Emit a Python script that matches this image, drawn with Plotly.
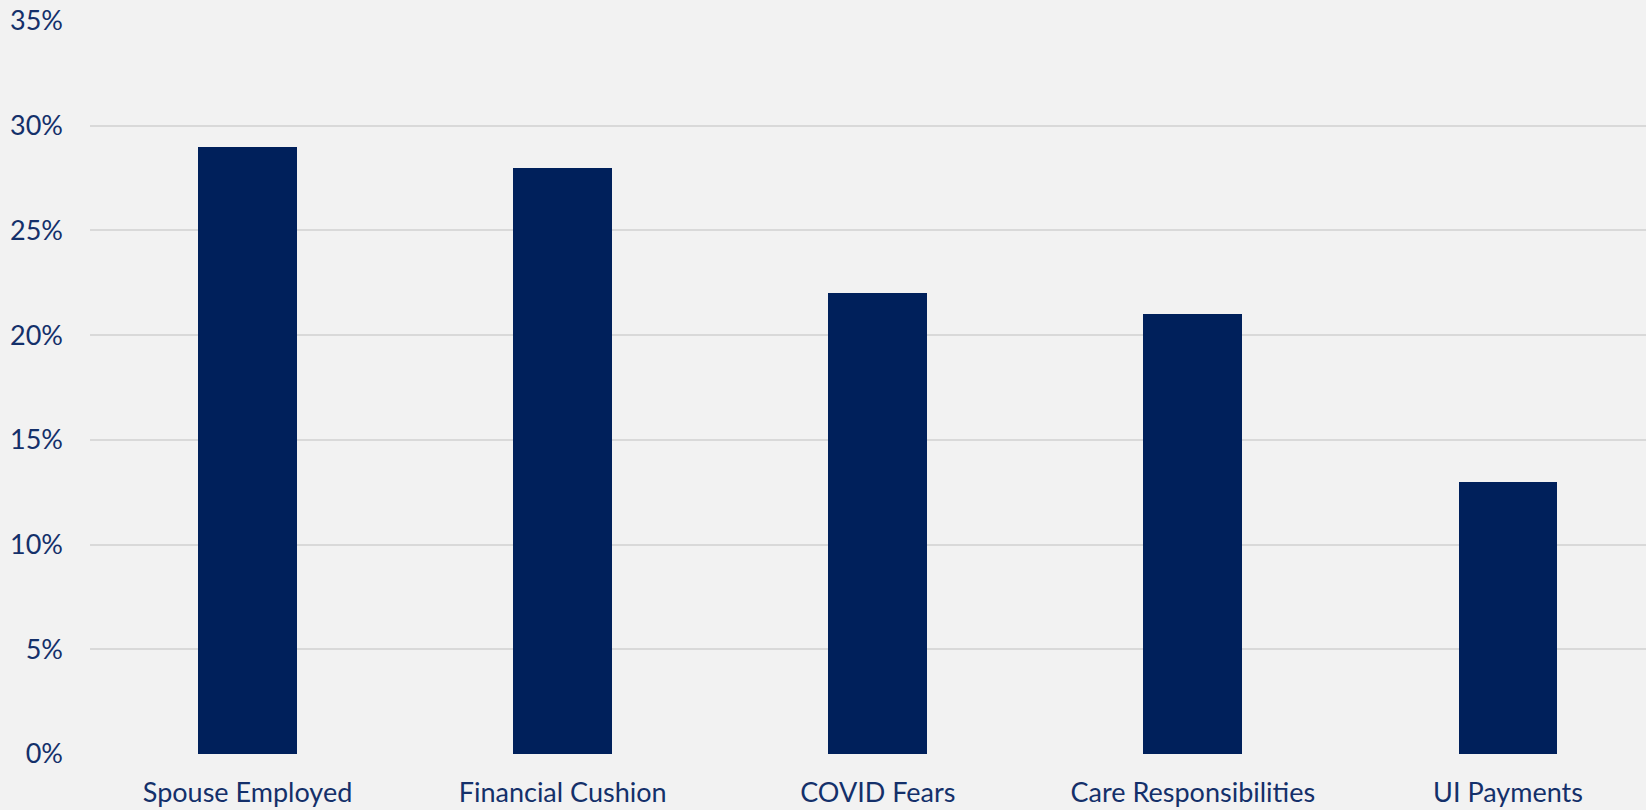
import plotly.graph_objects as go

categories = ["Spouse Employed", "Financial Cushion", "COVID Fears", "Care Responsibilities", "UI Payments"]
shares = [29, 28, 22, 21, 13]
y_ticks = [0, 5, 10, 15, 20, 25, 30, 35]
y_tick_labels = ["0%", "5%", "10%", "15%", "20%", "25%", "30%", "35%"]

navy = "#00205B"
text_color = "#14306A"
bg = "#F2F2F2"

fig = go.Figure(
    go.Bar(
        x=list(range(len(categories))),
        y=shares,
        width=0.314,
        marker=dict(color=navy, line=dict(width=0)),
        hoverinfo="skip",
    )
)

fig.update_layout(
    width=1646,
    height=810,
    margin=dict(l=90, r=0, t=21, b=56),
    paper_bgcolor=bg,
    plot_bgcolor=bg,
    showlegend=False,
    font=dict(family="Lato", size=27, color=text_color),
    bargap=0,
)

fig.update_xaxes(
    range=[-0.5, 4.438],
    tickmode="array",
    tickvals=list(range(len(categories))),
    ticktext=categories,
    showgrid=False,
    zeroline=False,
    showline=False,
    ticks="",
    ticklabelstandoff=20,
    tickfont=dict(size=27, color=text_color),
)

fig.update_yaxes(
    range=[0, 35],
    tickmode="array",
    tickvals=y_ticks,
    ticktext=y_tick_labels,
    showgrid=True,
    gridcolor="#D9D9D9",
    gridwidth=2,
    zeroline=False,
    showline=False,
    ticks="",
    ticklabelstandoff=26,
    tickfont=dict(size=27, color=text_color),
)

fig.write_html("out.html")
